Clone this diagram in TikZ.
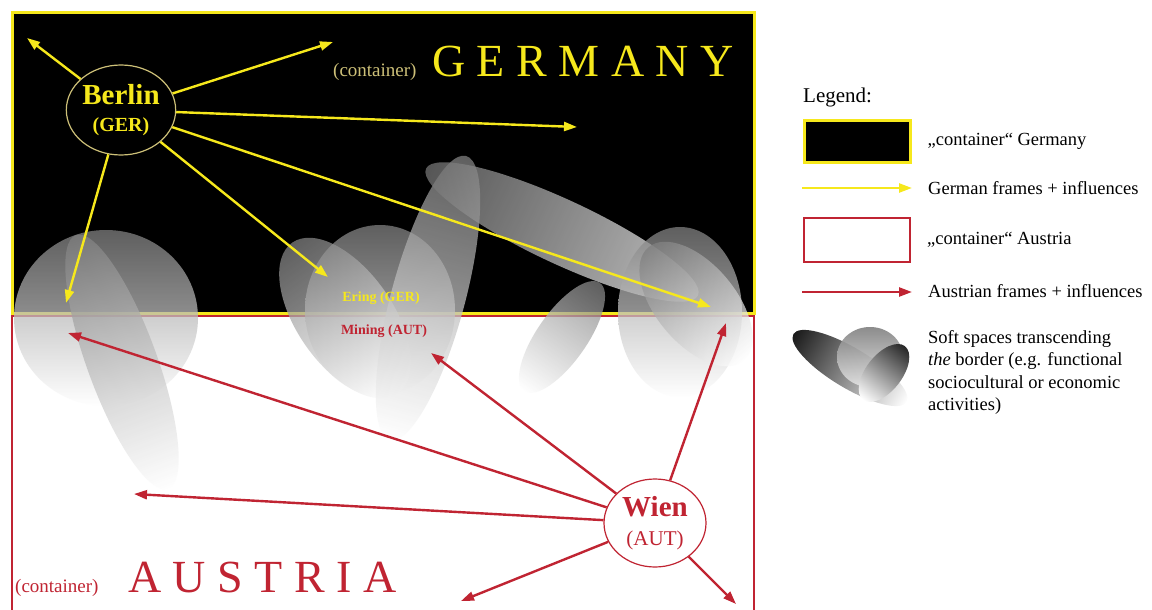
\documentclass[tikz,border=0pt]{standalone}
\usepackage{fontspec}
\setmainfont{Liberation Serif}
\newfontfamily\spacedfont[LetterSpace=25]{Liberation Serif}
\usetikzlibrary{arrows.meta,shapes.geometric,positioning}
\definecolor{geryellow}{RGB}{246,232,28}
\definecolor{gerbeige}{RGB}{205,192,120}
\definecolor{autred}{RGB}{192,36,50}

\begin{document}
\begin{tikzpicture}[x=1pt, y=-1pt,
    city/.style={draw, ellipse, line width=1.2pt, inner sep=0pt, minimum width=102pt, minimum height=90pt, align=center},
    garr/.style={-{Triangle[length=13pt, width=9pt]}, line width=2.4pt, geryellow},
    aarr/.style={-{Triangle[length=13pt, width=9pt]}, line width=2.4pt, autred},
    soft/.style={top color=black!50, bottom color=white, opacity=0.75},
    lgd/.style={anchor=west, inner sep=0pt, font=\fontsize{18.5}{22.5}\selectfont}
]
\useasboundingbox (0,0) rectangle (1152,610);
% containers
\draw[autred, line width=2pt, fill=white] (12,316) rectangle (754,660);
\draw[geryellow, line width=3pt, fill=black] (12,13) rectangle (754,313);

% soft spaces
\shade[soft] (106,318) ellipse [x radius=92, y radius=88];
\shade[soft, transform canvas={shift={(122,362)}, rotate=20}] (0,0) ellipse [x radius=35, y radius=135];
\shade[soft] (380,310) ellipse [x radius=75, y radius=85];
\shade[soft, transform canvas={shift={(345,318)}, rotate=35}] (0,0) ellipse [x radius=48, y radius=92];
\shade[soft, transform canvas={shift={(428,298)}, rotate=-15}] (0,0) ellipse [x radius=37, y radius=147];
\shade[soft, left color=black!55, right color=white, transform canvas={shift={(562,232)}, rotate=-25}] (0,0) ellipse [x radius=150, y radius=32];
\shade[soft, transform canvas={shift={(562,337)}, rotate=-35}] (0,0) ellipse [x radius=25, y radius=66];
\shade[soft] (680,312) ellipse [x radius=62, y radius=85];
\shade[soft, transform canvas={shift={(696,304)}, rotate=40}] (0,0) ellipse [x radius=40, y radius=74];

% cities
\node[city, draw=gerbeige, fill=black, text=geryellow, font=\fontsize{20}{27}\selectfont\bfseries] (berlin) at (121,110) {{\fontsize{29}{29}\selectfont Berlin}\\(GER)};
\node[city, draw=autred, fill=white, text=autred, minimum height=88pt, font=\fontsize{21}{29}\selectfont] (wien) at (655,523) {{\fontsize{29}{29}\selectfont\bfseries Wien}\\(AUT)};

% labels
\node[anchor=base west, inner sep=0pt, text=gerbeige, font=\fontsize{19}{19}\selectfont] (gercont) at (333,77) {(container)};
\node[anchor=base west, inner sep=0pt, text=geryellow, font=\spacedfont\fontsize{46}{46}\selectfont] (gername) at (432,77) {GERMANY};
\node[anchor=base west, inner sep=0pt, text=autred, font=\fontsize{19}{19}\selectfont] (autcont) at (15,592) {(container)};
\node[anchor=base west, inner sep=0pt, text=autred, font=\spacedfont\fontsize{46}{46}\selectfont] (autname) at (128,592) {AUSTRIA};
\node[text=geryellow, font=\fontsize{14}{14}\selectfont\bfseries] (ering) at (381,298) {Ering (GER)};
\node[text=autred, font=\fontsize{14}{14}\selectfont\bfseries] (mining) at (384,331) {Mining (AUT)};

% influences
\coordinate (b1) at (27,38);
\coordinate (b2) at (333,42);
\coordinate (b3) at (577,127);
\coordinate (b4) at (711,307);
\coordinate (b5) at (328,277);
\coordinate (b6) at (66,303);
\coordinate (w1) at (68,333);
\coordinate (w2) at (134,494);
\coordinate (w3) at (431,353);
\coordinate (w4) at (726,323);
\coordinate (w5) at (461,601);
\coordinate (w6) at (736,604);

\draw[garr] (berlin) -- (b1);
\draw[garr] (berlin) -- (b2);
\draw[garr] (berlin) -- (b3);
\draw[garr] (berlin) -- (b4);
\draw[garr] (berlin) -- (b5);
\draw[garr] (berlin) -- (b6);
\draw[aarr] (wien) -- (w1);
\draw[aarr] (wien) -- (w2);
\draw[aarr] (wien) -- (w3);
\draw[aarr] (wien) -- (w4);
\draw[aarr] (wien) -- (w5);
\draw[aarr] (wien) -- (w6);

% legend
\node[lgd, font=\fontsize{21}{21}\selectfont] (lgdtitle) at (803,97) {Legend:};
\node[draw=geryellow, line width=3pt, fill=black, minimum width=106pt, minimum height=42pt, inner sep=0pt] (keyger) at (857,141) {};
\node[lgd, right=16pt of keyger] (txtger) {„container“ Germany};
\coordinate (gfrom) at (802,188);
\coordinate (gto) at (912,188);
\draw[garr] (gfrom) -- (gto);
\node[lgd] (txtgarr) at (928,188) {German frames + influences};
\node[draw=autred, line width=2pt, fill=white, minimum width=106pt, minimum height=44pt, inner sep=0pt] (keyaut) at (857,240) {};
\node[lgd, right=16pt of keyaut] (txtaut) {„container“ Austria};
\coordinate (afrom) at (802,292);
\coordinate (ato) at (912,292);
\draw[aarr] (afrom) -- (ato);
\node[lgd] (txtaarr) at (928,291) {Austrian frames + influences};
\shade[left color=black!90, right color=white, transform canvas={shift={(850,368)}, rotate=-31}] (0,0) ellipse [x radius=66, y radius=20];
\shade[top color=black!50, bottom color=black!10, opacity=0.9] (870,357) ellipse [x radius=33, y radius=30];
\shade[top color=black!85, bottom color=white, transform canvas={shift={(884,373)}, rotate=-38}] (0,0) ellipse [x radius=18, y radius=34];
\node[lgd, anchor=north west, align=left] (txtsoft) at (928,330) {Soft spaces transcending\\\textit{the} border (e.g. functional\\sociocultural or economic\\activities)};
\end{tikzpicture}
\end{document}
